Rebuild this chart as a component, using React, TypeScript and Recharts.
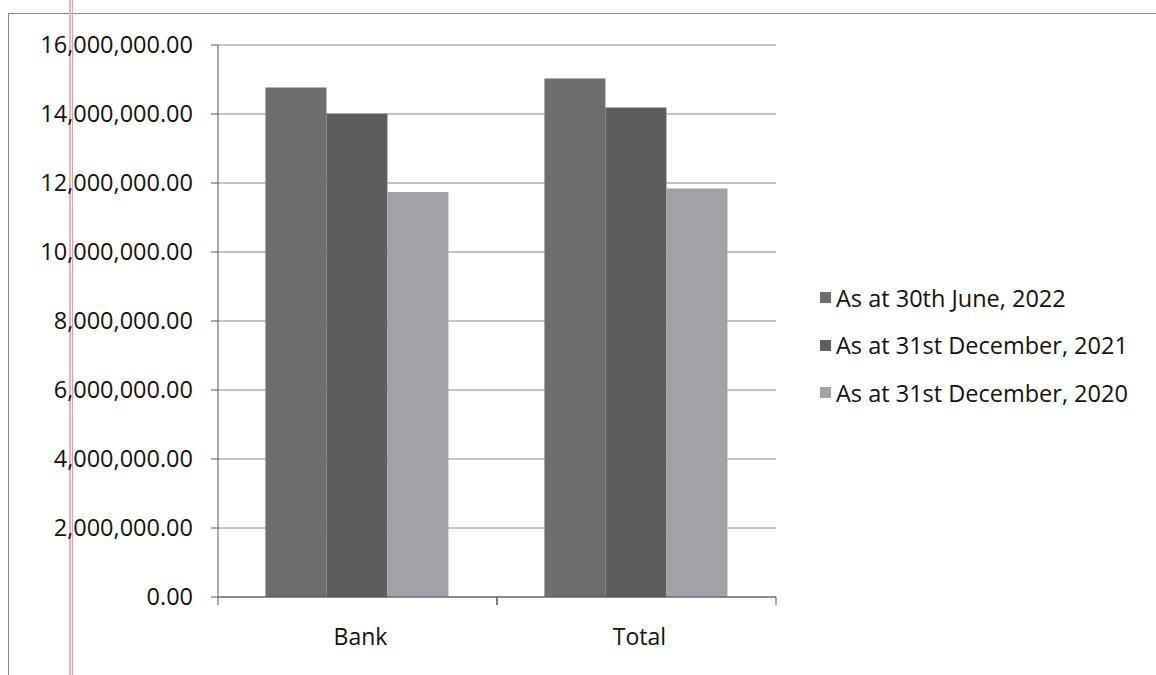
import React from "react";
import { BarChart, Bar, XAxis, YAxis, CartesianGrid } from "recharts";

const categories = ["Bank", "Total"];
const june2022 = [14770000, 15030000];
const dec2021 = [14010000, 14190000];
const dec2020 = [11740000, 11840000];
const yTicks = [0, 2000000, 4000000, 6000000, 8000000, 10000000, 12000000, 14000000, 16000000];

const seriesNames = [
  "As at 30th June, 2022",
  "As at 31st December, 2021",
  "As at 31st December, 2020",
];
const seriesColors = ["#6d6d70", "#5e5e61", "#a2a2a6"];

const data = categories.map((name, i) => ({
  name,
  june2022: june2022[i],
  dec2021: dec2021[i],
  dec2020: dec2020[i],
}));

const FONT = "'Open Sans', sans-serif";

const fmt = (v: number) =>
  v.toLocaleString("en-US", { minimumFractionDigits: 2, maximumFractionDigits: 2 });

// category label with Excel-style tick marks on the band edges
const CategoryTick = (props: any) => {
  const { x, y, payload } = props;
  const half = payload && payload.offset > 0 ? payload.offset : 139.5;
  return (
    <g>
      <line x1={x - half} x2={x - half} y1={y} y2={y + 8} stroke="#555" />
      <line x1={x + half} x2={x + half} y1={y} y2={y + 8} stroke="#555" />
      <text x={x + 3} y={y + 48} textAnchor="middle" fontSize={23} fill="#111" fontFamily={FONT}>
        {payload.value}
      </text>
    </g>
  );
};

export default function App() {
  return (
    <div
      style={{
        position: "absolute",
        left: 0,
        top: 0,
        width: 1156,
        height: 675,
        background: "#fff",
        overflow: "hidden",
      }}
    >
      {/* scanned page frame */}
      <div style={{ position: "absolute", left: 8, top: 13, width: 1160, height: 670, borderLeft: "1px solid #888", borderTop: "1px solid #888" }} />
      <div style={{ position: "absolute", left: 69, top: 0, width: 2, height: 675, background: "#e6b3c0" }} />
      <div style={{ position: "absolute", left: 72, top: 0, width: 1, height: 675, background: "#dba2b2" }} />

      <div style={{ position: "absolute", left: 0, top: 0 }}>
        <BarChart
          width={1156}
          height={675}
          data={data}
          margin={{ top: 45, right: 380, bottom: 0, left: 0 }}
          barGap={0}
          barCategoryGap="17%"
        >
          <CartesianGrid vertical={false} stroke="#8a8a8a" />
          <XAxis
            dataKey="name"
            height={78}
            axisLine={{ stroke: "#555" }}
            tickLine={false}
            tickSize={0}
            tickMargin={0}
            interval={0}
            tick={<CategoryTick />}
          />
          <YAxis
            width={218}
            domain={[0, 16000000]}
            ticks={yTicks}
            tickFormatter={fmt}
            axisLine={{ stroke: "#555" }}
            tickLine={{ stroke: "#555" }}
            tickSize={7}
            tickMargin={18}
            tick={{ fontSize: 23.5, fill: "#111", fontFamily: FONT }}
          />
          <Bar dataKey="june2022" name={seriesNames[0]} fill={seriesColors[0]} isAnimationActive={false} />
          <Bar dataKey="dec2021" name={seriesNames[1]} fill={seriesColors[1]} isAnimationActive={false} />
          <Bar dataKey="dec2020" name={seriesNames[2]} fill={seriesColors[2]} isAnimationActive={false} />
        </BarChart>
      </div>

      {/* legend */}
      <div style={{ position: "absolute", left: 820, top: 274, fontFamily: FONT, fontSize: 23.5, color: "#111" }}>
        {seriesNames.map((n, i) => (
          <div key={n} style={{ display: "flex", alignItems: "center", height: 47.5 }}>
            <span style={{ display: "inline-block", width: 11, height: 11, background: seriesColors[i], marginRight: 5 }} />
            <span>{n}</span>
          </div>
        ))}
      </div>
    </div>
  );
}
